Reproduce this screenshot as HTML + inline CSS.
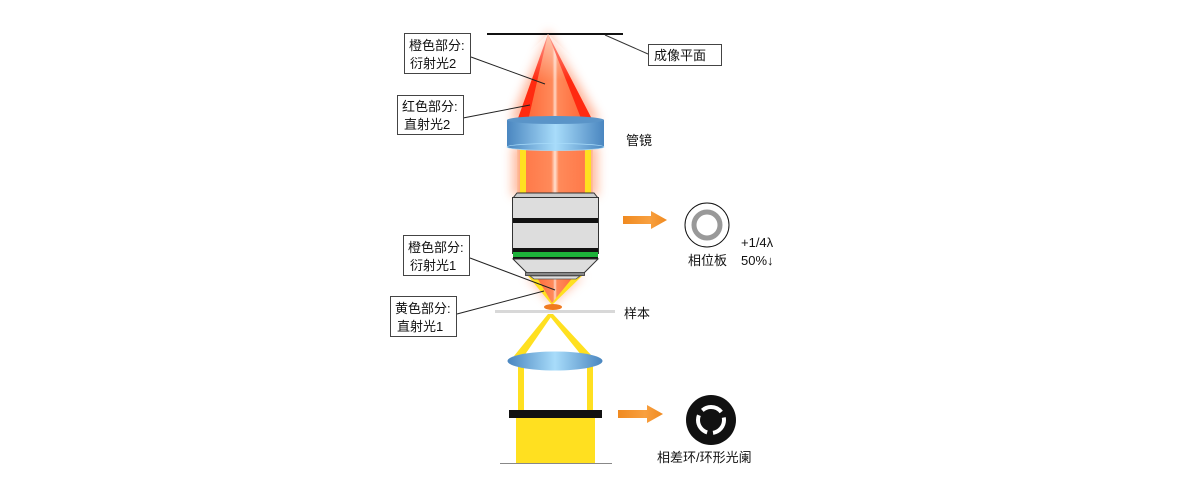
<!DOCTYPE html>
<html><head><meta charset="utf-8"><style>
html,body{margin:0;padding:0;background:#fff;}
svg{display:block}
text{font-family:"Liberation Sans","Noto Sans CJK SC",sans-serif;font-size:13px;fill:#111}
</style></head><body>
<svg width="1200" height="485" viewBox="0 0 1200 485" xmlns="http://www.w3.org/2000/svg">
<defs>
<linearGradient id="og" x1="0" x2="1"><stop offset="0" stop-color="#ff6a3a"/><stop offset="0.45" stop-color="#ff8a5a"/><stop offset="0.5" stop-color="#ffd6c4"/><stop offset="0.55" stop-color="#ff8a5a"/><stop offset="1" stop-color="#ff6a3a"/></linearGradient>
<linearGradient id="colg" x1="0" x2="1"><stop offset="0" stop-color="#ffc0a0"/><stop offset="0.12" stop-color="#ff7a4a"/><stop offset="0.45" stop-color="#ff8a5a"/><stop offset="0.5" stop-color="#ffe0d0"/><stop offset="0.55" stop-color="#ff8a5a"/><stop offset="0.88" stop-color="#ff7a4a"/><stop offset="1" stop-color="#ffc0a0"/></linearGradient>
<linearGradient id="lg" x1="0" x2="1"><stop offset="0" stop-color="#4a86c0"/><stop offset="0.5" stop-color="#a8dcfa"/><stop offset="1" stop-color="#4a86c0"/></linearGradient>
<linearGradient id="ag" x1="0" x2="1"><stop offset="0" stop-color="#f08a20"/><stop offset="0.6" stop-color="#f8a040"/><stop offset="1" stop-color="#f08a20"/></linearGradient>
<linearGradient id="fade" x1="0" y1="0" x2="0" y2="1"><stop offset="0" stop-color="#fff" stop-opacity="0.9"/><stop offset="1" stop-color="#fff" stop-opacity="0"/></linearGradient>
<filter id="blur" x="-50%" y="-50%" width="200%" height="200%"><feGaussianBlur stdDeviation="5"/></filter>
</defs>

<!-- glows -->
<g filter="url(#blur)" opacity="0.55">
<polygon points="548,30 510,121 600,121" fill="#ff7a4a"/>
<rect x="512" y="146" width="86" height="50" fill="#ff8a5a"/>
</g>

<!-- image plane -->
<line x1="487" y1="34" x2="623" y2="34" stroke="#111" stroke-width="2"/>
<line x1="605" y1="35" x2="648" y2="54" stroke="#333" stroke-width="1"/>
<rect x="648.5" y="44.5" width="73" height="21" fill="#fff" stroke="#444"/>
<text x="654" y="60">成像平面</text>

<!-- cone above tube lens -->
<polygon points="548,34 517,121 593,121" fill="#ff2a10"/>
<polygon points="548,34 528,121 582,121" fill="url(#og)"/>
<polygon points="548,34 500,80 596,80" fill="url(#fade)" opacity="0.6"/>

<!-- column between lens and objective -->
<rect x="517" y="146" width="76" height="50" fill="url(#colg)"/>
<rect x="520" y="146" width="6" height="48" fill="#ffe020"/>
<rect x="585" y="146" width="6" height="48" fill="#ffe020"/>

<!-- tube lens -->
<rect x="507" y="120" width="97" height="27" fill="url(#lg)"/>
<ellipse cx="555.5" cy="120" rx="48.5" ry="4" fill="#5a94c8"/>
<ellipse cx="555.5" cy="147" rx="48.5" ry="3.5" fill="url(#lg)" stroke="#a8dcfa" stroke-width="0.8"/>
<text x="626" y="145">管镜</text>

<!-- cone below objective -->
<g filter="url(#blur)" opacity="0.5">
<polygon points="526,276 584,276 552,305" fill="#ff8a5a"/>
</g>
<polygon points="528,276 582,276 552,305" fill="#ffe020"/>
<polygon points="536,276 574,276 552,303" fill="url(#og)"/>

<!-- objective -->
<polygon points="517,193 594,193 598,198 513,198" fill="#ccc" stroke="#333"/>
<rect x="512.5" y="197.5" width="86" height="56" fill="#ddd" stroke="#333"/>
<rect x="513" y="218" width="85" height="5" fill="#111"/>
<rect x="513" y="248" width="85" height="4" fill="#111"/>
<rect x="513" y="252" width="85" height="5" fill="#1db23a"/>
<rect x="513" y="257" width="85" height="2" fill="#111"/>
<polygon points="513,259 598,259 584,273 527,273" fill="#ddd" stroke="#333"/>
<rect x="525.5" y="272.5" width="59" height="3" fill="#888" stroke="#333" stroke-width="0.8"/>
<polygon points="530,276 580,276 576,279 534,279" fill="#ddd" stroke="#555" stroke-width="0.8"/>

<ellipse cx="553" cy="307" rx="9" ry="3" fill="#f07a20"/>

<!-- sample -->
<rect x="495" y="310" width="120" height="3" fill="#d8d8d8"/>
<text x="624" y="318">样本</text>

<!-- condenser rays -->
<polygon points="548,314 553,314 524,356 514,356" fill="#ffe020"/>
<polygon points="548,314 553,314 592,356 582,356" fill="#ffe020"/>
<rect x="518" y="360" width="6" height="52" fill="#ffe020"/>
<rect x="587" y="360" width="6" height="52" fill="#ffe020"/>
<ellipse cx="555" cy="361" rx="47.5" ry="9.5" fill="url(#lg)"/>

<!-- annular stop -->
<rect x="509" y="410" width="93" height="8" fill="#111"/>
<rect x="516" y="418" width="79" height="45" fill="#ffe020"/>
<line x1="500" y1="463.5" x2="612" y2="463.5" stroke="#888" stroke-width="1"/>

<!-- arrows -->
<polygon points="623,216 651,216 651,211 667,220 651,229 651,224 623,224" fill="url(#ag)"/>
<polygon points="618,410 647,410 647,405 663,414 647,423 647,418 618,418" fill="url(#ag)"/>

<!-- phase plate -->
<circle cx="707" cy="225" r="22" fill="#fff" stroke="#111" stroke-width="1"/>
<circle cx="707" cy="225" r="13" fill="none" stroke="#999" stroke-width="5"/>
<text x="688" y="265">相位板</text>
<text x="741" y="247">+1/4λ</text>
<text x="741" y="265">50%↓</text>

<!-- phase ring -->
<circle cx="711" cy="420" r="25" fill="#111"/>
<circle cx="711" cy="420" r="13" fill="none" stroke="#fff" stroke-width="4" stroke-dasharray="21.2 6" stroke-dashoffset="3"/>
<text x="657" y="462">相差环/环形光阑</text>

<!-- labels -->
<line x1="471" y1="57" x2="545" y2="84" stroke="#222"/>
<rect x="404.5" y="33.5" width="66" height="40" fill="#fff" stroke="#444"/>
<text x="409" y="50">橙色部分:</text>
<text x="410" y="68">衍射光2</text>

<line x1="463" y1="118" x2="530" y2="105" stroke="#222"/>
<rect x="397.5" y="95.5" width="66" height="39" fill="#fff" stroke="#444"/>
<text x="402" y="111">红色部分:</text>
<text x="404" y="129">直射光2</text>

<line x1="470" y1="258" x2="555" y2="290" stroke="#222"/>
<rect x="403.5" y="235.5" width="66" height="40" fill="#fff" stroke="#444"/>
<text x="408" y="252">橙色部分:</text>
<text x="410" y="270">衍射光1</text>

<line x1="457" y1="314" x2="544" y2="291" stroke="#222"/>
<rect x="390.5" y="296.5" width="66" height="40" fill="#fff" stroke="#444"/>
<text x="395" y="313">黄色部分:</text>
<text x="397" y="331">直射光1</text>
</svg>
</body></html>
